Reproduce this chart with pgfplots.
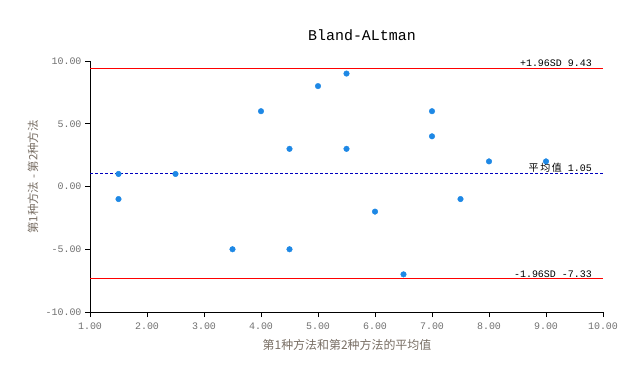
\documentclass[border=0pt]{standalone}
\usepackage{fontspec}
\setmainfont{Liberation Mono}
\newfontfamily\cjk{Noto Sans CJK SC}
\usepackage{pgfplots}
\pgfplotsset{compat=1.18}
\definecolor{pt}{RGB}{30,136,229}
\definecolor{tk}{RGB}{112,112,112}
\definecolor{lb}{RGB}{120,110,100}
\begin{document}
\begin{tikzpicture}[x=1bp,y=1bp]
\useasboundingbox (0,0) rectangle (624,364);
\begin{axis}[at={(90bp,52bp)}, anchor=south west, width=513bp, height=251bp, scale only axis,
  xmin=1, xmax=10, ymin=-10, ymax=10,
  xtick={1,2,...,10}, ytick={-10,-5,0,5,10},
  axis x line*=bottom, axis y line*=left,
  axis line style={black, line width=1bp, -},
  tick style={black, line width=0.8bp}, tick align=outside, major tick length=5bp,
  ticklabel style={font=\fontsize{10}{12}\selectfont, text=tk},
  xticklabel style={yshift=-2bp},
  /pgf/number format/.cd, fixed, fixed zerofill, precision=2, assume math mode=true, /pgfplots/.cd,
  clip=false]
\addplot[red, line width=0.9bp] coordinates {(1,9.43) (10,9.43)};
\addplot[red, line width=0.9bp] coordinates {(1,-7.33) (10,-7.33)};
\addplot[blue!75!black, line width=0.7bp, dash pattern=on 3bp off 2bp] coordinates {(1,1.05) (10,1.05)};
\addplot[only marks, mark=*, mark size=2.8bp, color=pt, mark options={draw=pt, fill=pt}] coordinates {
(1.5,1) (1.5,-1) (2.5,1) (3.5,-5) (4,6) (4.5,3) (4.5,-5) (5,8) (5.5,9) (5.5,3)
(6,-2) (6.5,-7) (7,6) (7,4) (7.5,-1) (8,2) (9,2)};
\node[anchor=south east, inner sep=1bp, xshift=-10bp, font=\fontsize{10}{12}\selectfont] at (axis cs:10,9.43) {+1.96SD 9.43};
\node[anchor=south east, inner sep=1bp, xshift=-10bp, font=\fontsize{10}{12}\selectfont] at (axis cs:10,1.05) {{\cjk 平\,均\,值} 1.05};
\node[anchor=south east, inner sep=1bp, xshift=-10bp, font=\fontsize{10}{12}\selectfont] at (axis cs:10,-7.33) {-1.96SD -7.33};
\end{axis}
\node[font=\fontsize{15}{18}\selectfont] at (362,329) {Bland-ALtman};
\node[rotate=90, font=\cjk\fontsize{11.5}{13}\selectfont, text=lb] at (33,187) {第1种方法\ -\ 第2种方法};
\node[font=\cjk\fontsize{12}{14}\selectfont, text=lb] at (347,19) {第1种方法和第2种方法的平均值};
\end{tikzpicture}
\end{document}
